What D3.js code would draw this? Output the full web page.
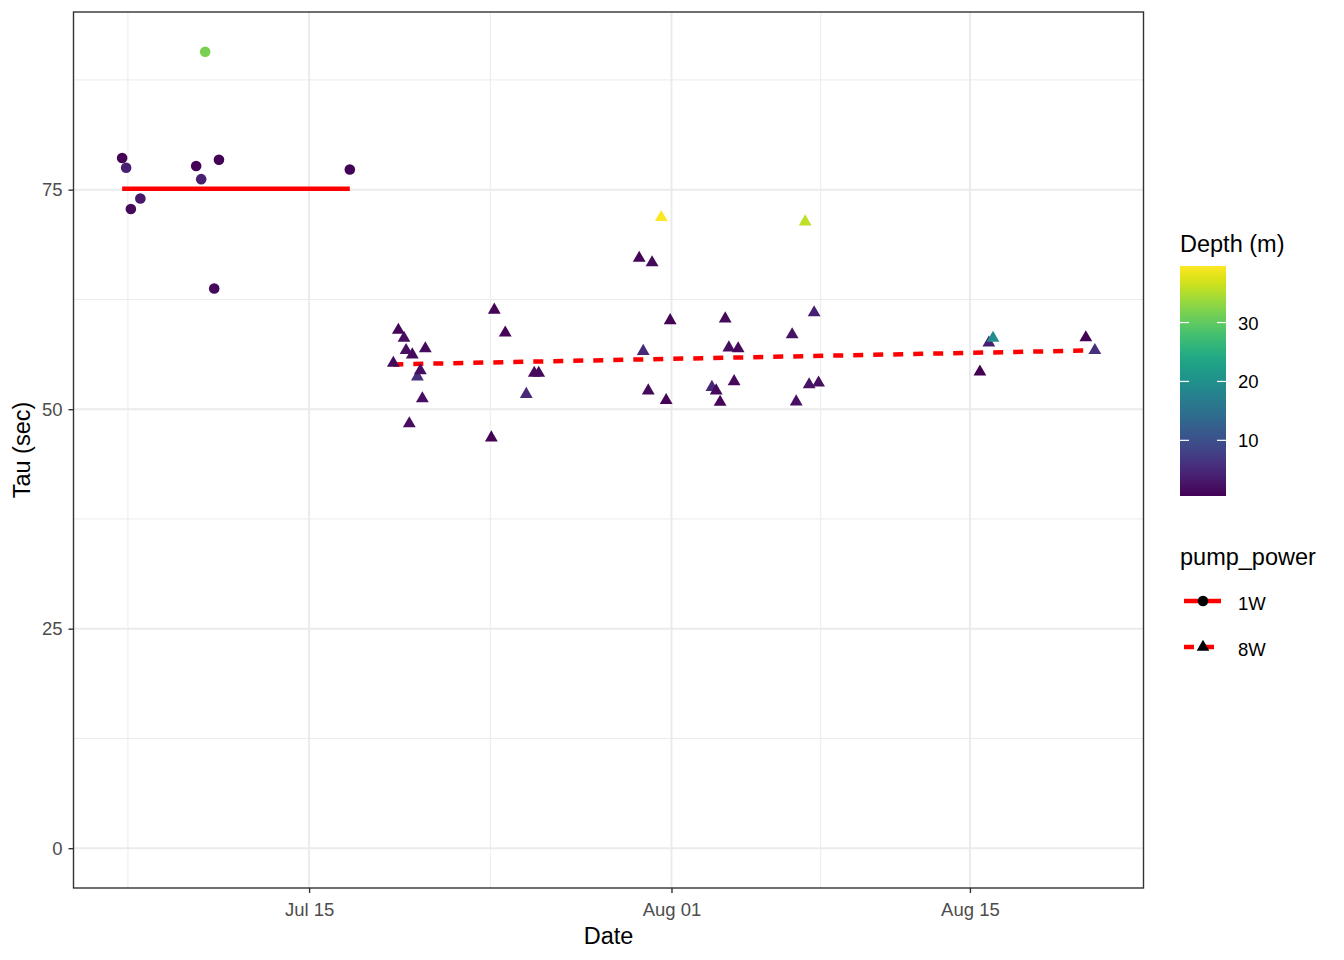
<!DOCTYPE html>
<html>
<head>
<meta charset="utf-8">
<script src="https://cdn.jsdelivr.net/npm/d3@7"></script>
<style>
  body { margin: 0; background: #fff; }
  text { font-family: "Liberation Sans", Arial, sans-serif; }
</style>
</head>
<body>
<script>
// data
const dates1W = ["2021-07-06 05:30", "2021-07-06 10:00", "2021-07-06 15:20", "2021-07-07 02:00",
  "2021-07-09 16:50", "2021-07-09 22:30", "2021-07-10 18:30", "2021-07-10 13:10",
  "2021-07-16 21:50", "2021-07-10 03:00"];
const tau1W = [78.6, 77.5, 72.8, 74.0, 77.7, 76.2, 78.4, 63.75, 77.3, 90.7];
const depth1W = [0.6, 4, 1.5, 3, 0.8, 4, 0.8, 1.5, 0.8, 31.8];

const dates8W = ["2021-07-18 22:50", "2021-07-19 04:30", "2021-07-19 10:50", "2021-07-19 13:10",
  "2021-07-19 16:50", "2021-07-19 20:10", "2021-07-20 01:55", "2021-07-20 05:15",
  "2021-07-20 07:30", "2021-07-20 10:50", "2021-07-23 13:10", "2021-07-23 16:30",
  "2021-07-24 04:50", "2021-07-25 04:30", "2021-07-25 13:30", "2021-07-25 18:30",
  "2021-07-30 11:40", "2021-07-30 16:10", "2021-07-30 21:50", "2021-07-31 02:10",
  "2021-07-31 12:30", "2021-07-31 18:00", "2021-07-31 22:30", "2021-08-02 21:30",
  "2021-08-03 02:20", "2021-08-03 06:45", "2021-08-03 12:30", "2021-08-03 16:35",
  "2021-08-03 22:30", "2021-08-04 03:05", "2021-08-06 15:50", "2021-08-06 20:25",
  "2021-08-07 06:30", "2021-08-07 11:00", "2021-08-07 16:35", "2021-08-07 21:35",
  "2021-08-15 11:15", "2021-08-15 21:20", "2021-08-16 02:00", "2021-08-20 10:30",
  "2021-08-20 20:40"];
const tau8W = [55.25, 59.0, 58.1, 56.7, 48.35, 56.2, 53.7, 54.4, 51.2, 56.9,
  46.75, 61.3, 58.7, 51.7, 54.1, 54.1, 67.2, 56.6, 52.1, 66.7,
  71.85, 51.0, 60.1, 52.5, 52.1, 50.8, 60.3, 57.0, 53.15, 56.9,
  58.5, 50.85, 71.35, 52.8, 61.0, 53.0, 54.25, 57.55, 58.1, 58.15, 56.7];
const depth8W = [1.5, 1, 2, 2, 2, 1.5, 6, 2, 2, 1.5,
  1, 1, 1, 5, 1.5, 1.5, 1, 5, 1.5, 1.5,
  39.6, 1, 1, 5, 1.5, 1, 1.5, 2, 1.5, 1.5,
  2.5, 2, 35.7, 2.5, 4, 2, 0.6, 4, 19.5, 0.8, 6];

// fitted lines (ends)
const fitDates1W = ["2021-07-06 05:30", "2021-07-16 21:50"];
const fit1W = [75.1, 75.1];
const fitDates8W = ["2021-07-18 22:50", "2021-08-20 20:40"];
const fit8W = [55.1, 56.7];

const powerLevels = ["1W", "8W"];
const xTickDates = ["2021-07-15", "2021-08-01", "2021-08-15"];
const xTickLabels = ["Jul 15", "Aug 01", "Aug 15"];
const yTicks = [0, 25, 50, 75];
const depthRange = [0.55, 39.6];
const depthTicks = [10, 20, 30];

const parseTime = d3.timeParse("%Y-%m-%d %H:%M");
const parseDay = d3.timeParse("%Y-%m-%d");

const pts = [];
dates1W.forEach((d, i) => pts.push({date: parseTime(d), tau: tau1W[i], depth: depth1W[i], power: "1W"}));
dates8W.forEach((d, i) => pts.push({date: parseTime(d), tau: tau8W[i], depth: depth8W[i], power: "8W"}));

const fits = [
  {power: "1W", dash: null, values: fitDates1W.map((d, i) => ({date: parseTime(d), tau: fit1W[i]}))},
  {power: "8W", dash: "10,10", values: fitDates8W.map((d, i) => ({date: parseTime(d), tau: fit8W[i]}))}
];

const W = 1344, H = 960;
const margin = {top: 12, right: 200.5, bottom: 72, left: 73.5};
const pw = W - margin.left - margin.right, ph = H - margin.top - margin.bottom;

const svg = d3.select("body").append("svg")
    .attr("width", W).attr("height", H);

// scales, ggplot-like 5% expansion
const xExt = d3.extent(pts, d => d.date);
const xPad = (xExt[1] - xExt[0]) * 0.05;
const x = d3.scaleTime()
    .domain([new Date(+xExt[0] - xPad), new Date(+xExt[1] + xPad)])
    .range([0, pw]);

const yMax = d3.max(pts, d => d.tau), yMin = Math.min(0, d3.min(pts, d => d.tau));
const yPad = (yMax - yMin) * 0.05;
const y = d3.scaleLinear().domain([yMin - yPad, yMax + yPad]).range([ph, 0]);

const color = d3.scaleSequential(d3.interpolateViridis).domain(depthRange);

const g = svg.append("g").attr("transform", `translate(${margin.left},${margin.top})`);

// minor breaks like ggplot: midpoints, extended one step each side
const xMajor = xTickDates.map(parseDay);
const bd = xMajor[1] - xMajor[0];
const ext = [new Date(+xMajor[0] - bd), ...xMajor, new Date(+xMajor[xMajor.length - 1] + bd)];
const xMinor = d3.pairs(ext).map(p => new Date((+p[0] + +p[1]) / 2))
    .filter(d => d >= x.domain()[0] && d <= x.domain()[1]);
const yMinor = d3.pairs([-25, ...yTicks, 100]).map(p => (p[0] + p[1]) / 2)
    .filter(v => v >= y.domain()[0] && v <= y.domain()[1]);

// grid
g.selectAll("line.yminor").data(yMinor).enter().append("line")
    .attr("x1", 0).attr("x2", pw).attr("y1", d => y(d)).attr("y2", d => y(d))
    .attr("stroke", "#ebebeb").attr("stroke-width", 1);
g.selectAll("line.xminor").data(xMinor).enter().append("line")
    .attr("y1", 0).attr("y2", ph).attr("x1", d => x(d)).attr("x2", d => x(d))
    .attr("stroke", "#ebebeb").attr("stroke-width", 1);
g.selectAll("line.ymajor").data(yTicks).enter().append("line")
    .attr("x1", 0).attr("x2", pw).attr("y1", d => y(d)).attr("y2", d => y(d))
    .attr("stroke", "#ebebeb").attr("stroke-width", 2);
g.selectAll("line.xmajor").data(xMajor).enter().append("line")
    .attr("y1", 0).attr("y2", ph).attr("x1", d => x(d)).attr("x2", d => x(d))
    .attr("stroke", "#ebebeb").attr("stroke-width", 2);

// fit lines
const line = d3.line().x(d => x(d.date)).y(d => y(d.tau));
g.selectAll("path.fit").data(fits).enter().append("path")
    .attr("d", d => line(d.values))
    .attr("fill", "none").attr("stroke", "#ff0000").attr("stroke-width", 4.5)
    .attr("stroke-dasharray", d => d.dash);

// points
const sym = {"1W": d3.symbol().type(d3.symbolCircle).size(Math.PI * 5.3 * 5.3)};
function triPath(r) {
  const xc = r * 0.866;
  return `M0,${-r}L${xc},${r / 2}L${-xc},${r / 2}Z`;
}
g.selectAll("path.pt").data(pts).enter().append("path")
    .attr("transform", d => `translate(${x(d.date)},${y(d.tau)})`)
    .attr("d", d => d.power === "1W" ? sym["1W"]() : triPath(7.4))
    .attr("fill", d => color(d.depth));

// panel border
g.append("rect").attr("width", pw).attr("height", ph)
    .attr("fill", "none").attr("stroke", "#333333").attr("stroke-width", 1.4);

// axes
const xAxis = g.append("g").attr("transform", `translate(0,${ph})`)
    .call(d3.axisBottom(x).tickValues(xMajor).tickSize(5).tickPadding(10)
      .tickFormat((d, i) => xTickLabels[i]));
const yAxis = g.append("g")
    .call(d3.axisLeft(y).tickValues(yTicks).tickSize(5).tickPadding(6));
[xAxis, yAxis].forEach(a => {
  a.select(".domain").remove();
  a.selectAll("line").attr("stroke", "#333333").attr("stroke-width", 1.4);
  a.selectAll("text").attr("fill", "#4d4d4d").style("font-size", "18.5px")
    .style("font-family", '"Liberation Sans", Arial, sans-serif');
});

svg.append("text").attr("x", margin.left + pw / 2).attr("y", 944)
    .attr("text-anchor", "middle").style("font-size", "23.5px").text("Date");
svg.append("text").attr("transform", `translate(30,${margin.top + ph / 2}) rotate(-90)`)
    .attr("text-anchor", "middle").style("font-size", "23.5px").text("Tau (sec)");

// colour legend
const lx = 1180, barTop = 266, barH = 230, barW = 46;
svg.append("text").attr("x", lx).attr("y", 252).style("font-size", "23.5px").text("Depth (m)");
const defs = svg.append("defs");
const grad = defs.append("linearGradient").attr("id", "vgrad")
    .attr("x1", 0).attr("y1", 1).attr("x2", 0).attr("y2", 0);
d3.range(0, 1.0001, 0.05).forEach(t => grad.append("stop")
    .attr("offset", t).attr("stop-color", d3.interpolateViridis(t)));
svg.append("rect").attr("x", lx).attr("y", barTop).attr("width", barW).attr("height", barH)
    .attr("fill", "url(#vgrad)");
const cy = d3.scaleLinear().domain(depthRange).range([barTop + barH, barTop]);
depthTicks.forEach(v => {
  svg.append("line").attr("x1", lx).attr("x2", lx + 9).attr("y1", cy(v)).attr("y2", cy(v))
      .attr("stroke", "#fff").attr("stroke-width", 1.2);
  svg.append("line").attr("x1", lx + barW - 9).attr("x2", lx + barW).attr("y1", cy(v)).attr("y2", cy(v))
      .attr("stroke", "#fff").attr("stroke-width", 1.2);
  svg.append("text").attr("x", 1238).attr("y", cy(v) + 7).style("font-size", "18.5px").text(v);
});

// shape / linetype legend
svg.append("text").attr("x", lx).attr("y", 565).style("font-size", "23.5px").text("pump_power");
const keyY = [601, 647];
powerLevels.forEach((p, i) => {
  const f = fits.find(d => d.power === p);
  svg.append("line").attr("x1", 1184).attr("x2", 1221).attr("y1", keyY[i]).attr("y2", keyY[i])
      .attr("stroke", "#ff0000").attr("stroke-width", 4.5).attr("stroke-dasharray", f.dash);
  svg.append("path").attr("transform", `translate(1203,${keyY[i]})`)
      .attr("d", p === "1W" ? sym["1W"]() : triPath(7.3)).attr("fill", "#000");
  svg.append("text").attr("x", 1238).attr("y", keyY[i] + 9).style("font-size", "18.5px").text(p);
});
</script>
</body>
</html>
